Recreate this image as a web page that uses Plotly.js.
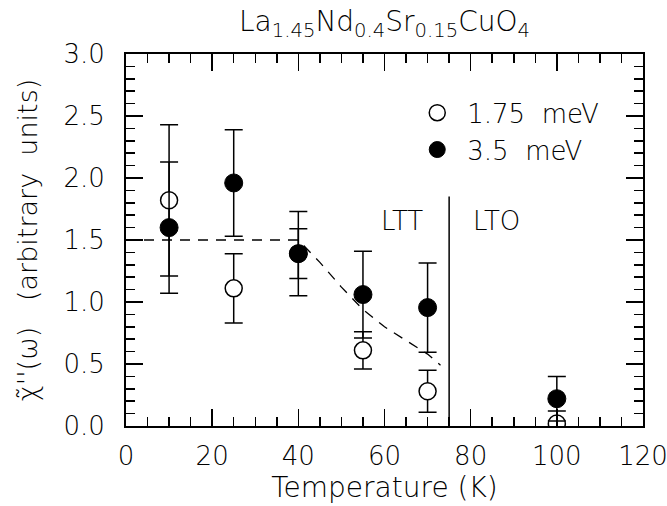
<!DOCTYPE html>
<html>
<head>
<meta charset="utf-8">
<script src="https://cdn.plot.ly/plotly-3.0.1.min.js"></script>
<style>html,body{margin:0;padding:0;background:#fff;}#chart{width:667px;height:506px;}</style>
</head>
<body>
<div id="chart"></div>
<script>
// Data
const temps = [10, 25, 40, 55, 70, 100];
const chi175 = [1.82, 1.11, 1.39, 0.61, 0.28, 0.02];
const err175 = [0.61, 0.28, 0.20, 0.15, 0.17, 0.10];
const chi35 = [1.60, 1.96, 1.39, 1.06, 0.955, 0.22];
const err35 = [0.53, 0.43, 0.34, 0.35, 0.36, 0.18];
const guideT = [0, 40, 45, 50, 55, 60, 65, 70, 73];
const guideV = [1.5, 1.5, 1.32, 1.12, 0.94, 0.80, 0.69, 0.58, 0.49];
const phaseT = 75;
const phaseTop = 1.85;
const seriesNames = ['1.75\u00a0\u00a0meV', '3.5\u00a0\u00a0meV'];
const phaseLabels = [{text: 'LTT', t: 64, v: 1.65}, {text: 'LTO', t: 86, v: 1.65}];

const FONT = 'DejaVu Sans, sans-serif';
const W = 200;

const traces = [
  {
    x: guideT, y: guideV, mode: 'lines', showlegend: false, hoverinfo: 'skip',
    line: {color: '#000', width: 1.3, dash: '10px,8px'}
  },
  {
    x: temps, y: chi175, name: seriesNames[0], mode: 'markers', type: 'scatter',
    marker: {symbol: 'circle', size: 17, color: '#fff', line: {color: '#000', width: 1.5}},
    error_y: {type: 'data', array: err175, visible: true, color: '#000', thickness: 1.5, width: 9}
  },
  {
    x: temps, y: chi35, name: seriesNames[1], mode: 'markers', type: 'scatter',
    marker: {symbol: 'circle', size: 18, color: '#000', line: {color: '#000', width: 1}},
    error_y: {type: 'data', array: err35, visible: true, color: '#000', thickness: 1.5, width: 9}
  }
];

const axisCommon = {
  showgrid: false, zeroline: false, showline: true, linecolor: '#000', linewidth: 2,
  mirror: 'allticks', ticks: 'inside', ticklen: 17, tickwidth: 1.5, tickcolor: '#000',
  ticklabeloverflow: 'allow',
  tickfont: {family: FONT, size: 26, color: '#000', weight: W}
};

const layout = {
  width: 667, height: 506,
  margin: {l: 126, r: 24, t: 54, b: 80},
  paper_bgcolor: '#fff', plot_bgcolor: '#fff',
  font: {family: FONT, color: '#000', weight: W},
  title: {
    text: 'La<sub>1.45</sub>Nd<sub>0.4</sub>Sr<sub>0.15</sub>CuO<sub>4</sub>',
    font: {family: FONT, size: 28, color: '#000', weight: W},
    x: 0.5, xref: 'paper', xanchor: 'center', y: 0.958, yanchor: 'middle'
  },
  xaxis: Object.assign({}, axisCommon, {
    range: [0, 120], tickmode: 'linear', tick0: 0, dtick: 20,
    minor: {dtick: 5, ticks: 'inside', ticklen: 9, tickwidth: 1.5, tickcolor: '#000'},
    ticklabelstandoff: 6,
    title: {text: 'Temperature (K)', font: {family: FONT, size: 28, color: '#000', weight: W}, standoff: 0}
  }),
  yaxis: Object.assign({}, axisCommon, {
    range: [0, 3], tickmode: 'linear', tick0: 0, dtick: 0.5, tickformat: '.1f',
    minor: {dtick: 0.1, ticks: 'inside', ticklen: 9, tickwidth: 1.5, tickcolor: '#000'},
    ticklabelstandoff: 14,
    title: {text: "χ\u0303''(ω)\u00a0\u00a0\u00a0(arbitrary\u00a0\u00a0units)", font: {family: FONT, size: 27, color: '#000', weight: W}, standoff: 18}
  }),
  showlegend: true,
  legend: {
    x: 0.544, y: 0.905, xanchor: 'left', yanchor: 'top', traceorder: 'normal',
    bgcolor: 'rgba(0,0,0,0)', borderwidth: 0, tracegroupgap: 19,
    font: {family: FONT, size: 26, color: '#000', weight: W}, itemwidth: 50
  },
  shapes: [{
    type: 'line', xref: 'x', yref: 'y', x0: phaseT, x1: phaseT, y0: 0, y1: phaseTop,
    line: {color: '#000', width: 1.5}
  }],
  annotations: phaseLabels.map(p => ({
    x: p.t, y: p.v, xref: 'x', yref: 'y', text: p.text, showarrow: false,
    font: {family: FONT, size: 26, color: '#000', weight: W}
  }))
};

Plotly.newPlot('chart', traces, layout, {displayModeBar: false, staticPlot: true});
</script>
</body>
</html>
